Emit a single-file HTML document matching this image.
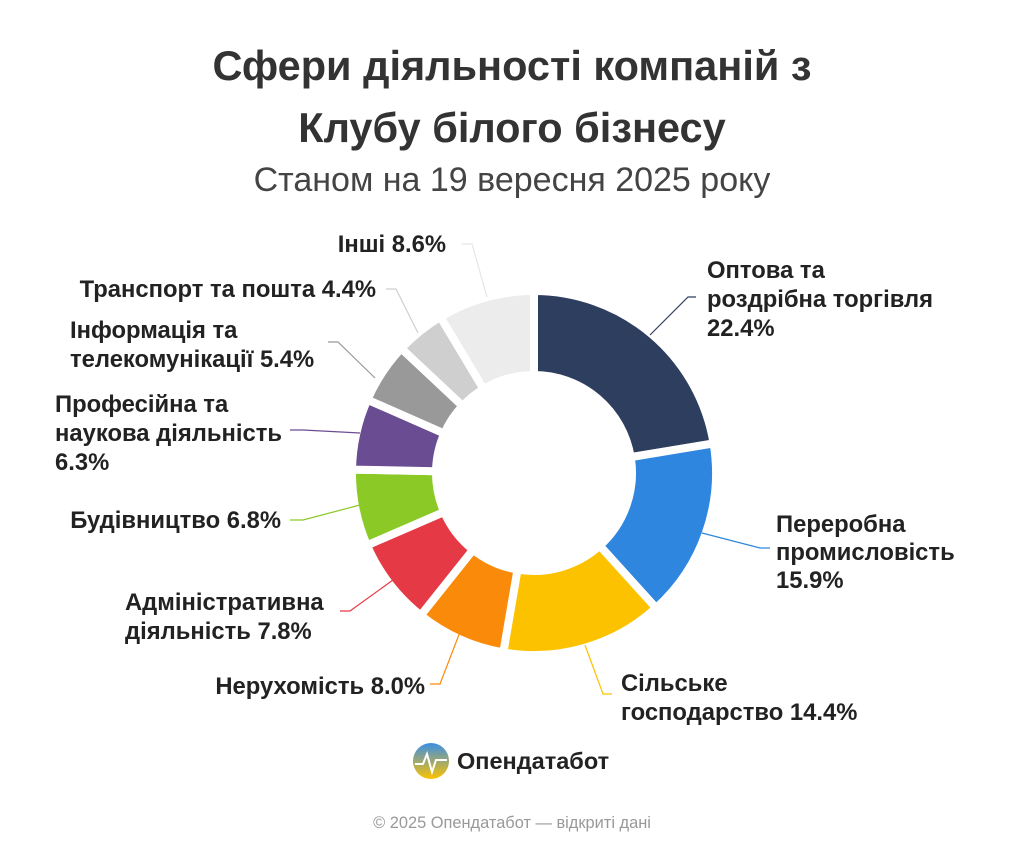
<!DOCTYPE html>
<html><head><meta charset="utf-8"><style>
body{margin:0;background:#fff;width:1024px;height:853px;overflow:hidden;font-family:"Liberation Sans",sans-serif}
</style></head><body>
<svg id="s" width="1024" height="853" xmlns="http://www.w3.org/2000/svg" font-family="Liberation Sans, sans-serif">
<text x="512" y="80" text-anchor="middle" font-size="41.5" font-weight="bold" fill="#333">Сфери діяльності компаній з</text>
<text x="512" y="142" text-anchor="middle" font-size="41.5" font-weight="bold" fill="#333">Клубу білого бізнесу</text>
<text x="512" y="191" text-anchor="middle" font-size="34" fill="#444">Станом на 19 вересня 2025 року</text>
<g id="d"></g>
<g fill="none" stroke-width="1.2">
<polyline points="650,335 688,297 696,297" stroke="#2e3e5e"/>
<polyline points="702,533 760,548 770,548" stroke="#2e86de"/>
<polyline points="585,645 603,694 612,694" stroke="#fcc200"/>
<polyline points="460,632 440,684 430,684" stroke="#f98a0a"/>
<polyline points="393,580 350,611 340,611" stroke="#e63946"/>
<polyline points="360,505 303,520 290,520" stroke="#8ac926"/>
<polyline points="360,433 303,430 290,430" stroke="#6a4c93"/>
<polyline points="375,378 338,342 328,342" stroke="#999"/>
<polyline points="418,333 396,289 386,289" stroke="#cfcfcf"/>
<polyline points="487,297 472,244 462,244" stroke="#e6e6e6"/>
</g>
<g font-size="23.8" font-weight="bold" fill="#222">
<text x="707" y="278">Оптова та</text><text x="707" y="307">роздрібна торгівля</text><text x="707" y="336">22.4%</text>
<text x="776" y="532">Переробна</text><text x="776" y="560">промисловість</text><text x="776" y="588">15.9%</text>
<text x="621" y="691">Сільське</text><text x="621" y="720">господарство 14.4%</text>
<text x="425" y="694" text-anchor="end">Нерухомість 8.0%</text>
<text x="125" y="610">Адміністративна</text><text x="125" y="639">діяльність 7.8%</text>
<text x="281" y="528" text-anchor="end">Будівництво 6.8%</text>
<text x="55" y="412">Професійна та</text><text x="55" y="441">наукова діяльність</text><text x="55" y="470">6.3%</text>
<text x="70" y="338">Інформація та</text><text x="70" y="367">телекомунікації 5.4%</text>
<text x="376" y="297" text-anchor="end">Транспорт та пошта 4.4%</text>
<text x="446" y="252" text-anchor="end">Інші 8.6%</text>
</g>
<defs><linearGradient id="lg" x1="0" y1="0" x2="0" y2="1"><stop offset="0" stop-color="#3a8ee6"/><stop offset="1" stop-color="#fcc200"/></linearGradient></defs>
<circle cx="431" cy="761" r="18" fill="url(#lg)"/>
<polyline points="415,764 423,764 427,754 432,772 436,760 447,760" fill="none" stroke="#fff" stroke-width="2"/>
<text x="457" y="769" font-size="23.5" font-weight="bold" fill="#222">Опендатабот</text>
<text x="512" y="828" text-anchor="middle" font-size="16.4" fill="#999">© 2025 Опендатабот — відкриті дані</text>
</svg>
<script>
var v=[22.4,15.9,14.4,8.0,7.8,6.8,6.3,5.4,4.4,8.6],c=["#2e3e5e","#2e86de","#fcc200","#f98a0a","#e63946","#8ac926","#6a4c93","#999999","#cfcfcf","#ececec"];
var cx=534,cy=473,R=182,r=98,a=0,g=document.getElementById("d"),h="";
function p(rad,ang){return (cx+rad*Math.sin(ang)).toFixed(1)+","+(cy-rad*Math.cos(ang)).toFixed(1)}
for(var i=0;i<v.length;i++){var s=a*2*Math.PI/100,e=(a+v[i])*2*Math.PI/100,l=v[i]>50?1:0;
h+='<path d="M'+p(R,s)+' A'+R+','+R+' 0 '+l+' 1 '+p(R,e)+' L'+p(r,e)+' A'+r+','+r+' 0 '+l+' 0 '+p(r,s)+' Z" fill="'+c[i]+'" stroke="#fff" stroke-width="8" stroke-linejoin="round"/>';a+=v[i];}
g.innerHTML=h;
</script>
</body></html>
